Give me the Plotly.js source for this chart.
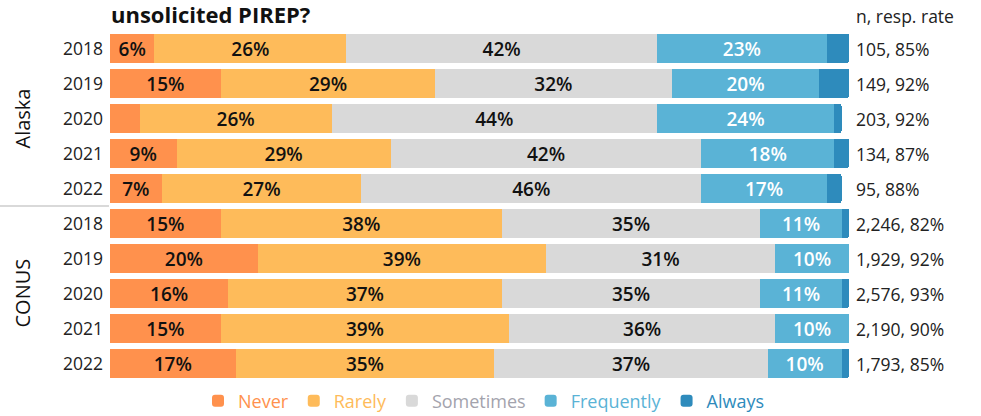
<!DOCTYPE html>
<html>
<head>
<meta charset="utf-8">
<script src="https://cdn.plot.ly/plotly-3.0.1.min.js"></script>
<style>html,body{margin:0;padding:0;background:#fff;}#chart{width:981px;height:416px;}</style>
</head>
<body>
<div id="chart"></div>
<script>
// ---- data ----
const groups = ["Alaska", "Alaska", "Alaska", "Alaska", "Alaska", "CONUS", "CONUS", "CONUS", "CONUS", "CONUS"];
const years = ["2018", "2019", "2020", "2021", "2022", "2018", "2019", "2020", "2021", "2022"];
const never      = [6, 15, 4, 9, 7, 15, 20, 16, 15, 17];
const rarely     = [26, 29, 26, 29, 27, 38, 39, 37, 39, 35];
const sometimes  = [42, 32, 44, 42, 46, 35, 31, 35, 36, 37];
const frequently = [23, 20, 24, 18, 17, 11, 10, 11, 10, 10];
const always     = [3, 4, 1, 2, 2, 1, 1, 1, 1, 1];
const nResp = ["105, 85%", "149, 92%", "203, 92%", "134, 87%", "95, 88%",
               "2,246, 82%", "1,929, 92%", "2,576, 93%", "2,190, 90%", "1,793, 85%"];
const seriesNames = ["Never", "Rarely", "Sometimes", "Frequently", "Always"];

// ---- styles ----
const FONT = "Open Sans, Noto Sans, sans-serif";
const fill = ["#FF914D", "#FEBB5A", "#D9D9D9", "#5AB3D6", "#2E8BBC"];
const legendText = ["#FF914D", "#FEBB5A", "#A3A3AD", "#5AB3D6", "#2E8BBC"];
const labelColor = ["#111111", "#111111", "#111111", "#FFFFFF", "#FFFFFF"];
const showLabels = [true, true, true, true, false];

const cats = groups.map((g, i) => g + " " + years[i]);
const seriesVals = [never, rarely, sometimes, frequently, always];

const traces = seriesVals.map((vals, k) => ({
  type: "bar",
  orientation: "h",
  y: cats,
  x: vals,
  name: '<span style="color:' + legendText[k] + '">' + seriesNames[k] + '</span>',
  marker: { color: fill[k], line: { width: 0 } },
  text: vals.map(v => (showLabels[k] && v >= 5) ? v + "%" : ""),
  textposition: "inside",
  insidetextanchor: "middle",
  textfont: { family: FONT, size: 19, color: labelColor[k], weight: 600 },
  hoverinfo: "skip"
}));

const plotW = 981 - 110 - 132;
const plotH = 416 - 31 - 35;

const annotations = [];
cats.forEach((c, i) => {
  annotations.push({
    x: 1, xref: "paper", xshift: 5, xanchor: "left",
    y: c, yref: "y", yanchor: "middle",
    text: nResp[i], showarrow: false,
    font: { family: FONT, size: 17.5, color: "#222222" }
  });
});
annotations.push({
  x: 1, xref: "paper", xshift: 5, xanchor: "left",
  y: 1 + 15 / plotH, yref: "paper", yanchor: "middle",
  text: "n, resp. rate", showarrow: false,
  font: { family: FONT, size: 17.5, color: "#222222" }
});
[["Alaska", cats[2]], ["CONUS", cats[7]]].forEach(([t, c]) => {
  annotations.push({
    x: -88 / plotW, xref: "paper", xanchor: "center",
    y: c, yref: "y", yanchor: "middle",
    text: t, textangle: -90, showarrow: false,
    font: { family: FONT, size: 20, color: "#111111" }
  });
});

const layout = {
  width: 981, height: 416,
  margin: { l: 110, r: 132, t: 31, b: 35 },
  paper_bgcolor: "#ffffff", plot_bgcolor: "#ffffff",
  barmode: "stack",
  bargap: 0.17,
  barcornerradius: 2,
  uniformtext: { mode: "show", minsize: 19 },
  font: { family: FONT, color: "#222222" },
  title: {
    text: "<b>unsolicited PIREP?</b>",
    x: 111 / 981, xanchor: "left", xref: "container",
    y: 1 - 15 / 416, yanchor: "middle", yref: "container",
    font: { family: FONT, size: 22, color: "#111111" }
  },
  xaxis: { range: [0, 100], visible: false, fixedrange: true },
  yaxis: {
    type: "category",
    categoryorder: "array", categoryarray: cats,
    autorange: "reversed",
    tickvals: cats, ticktext: years,
    ticks: "", showline: false, showgrid: false, zeroline: false,
    ticklabelstandoff: 6,
    tickfont: { family: FONT, size: 17.5, color: "#222222" },
    fixedrange: true
  },
  showlegend: true,
  legend: {
    orientation: "h", x: 484 / 981, xanchor: "center", xref: "container",
    y: 15 / 416, yanchor: "middle", yref: "container",
    font: { family: FONT, size: 18 },
    itemwidth: 30,
    traceorder: "normal",
    itemclick: false, itemdoubleclick: false
  },
  shapes: [{
    type: "line", xref: "paper", yref: "y",
    x0: -110 / plotW, x1: -1 / plotW, y0: 4.5, y1: 4.5,
    line: { color: "#D9D9D9", width: 2 }
  }],
  annotations: annotations
};

Plotly.newPlot("chart", traces, layout, { displayModeBar: false, staticPlot: true });
</script>
</body>
</html>
